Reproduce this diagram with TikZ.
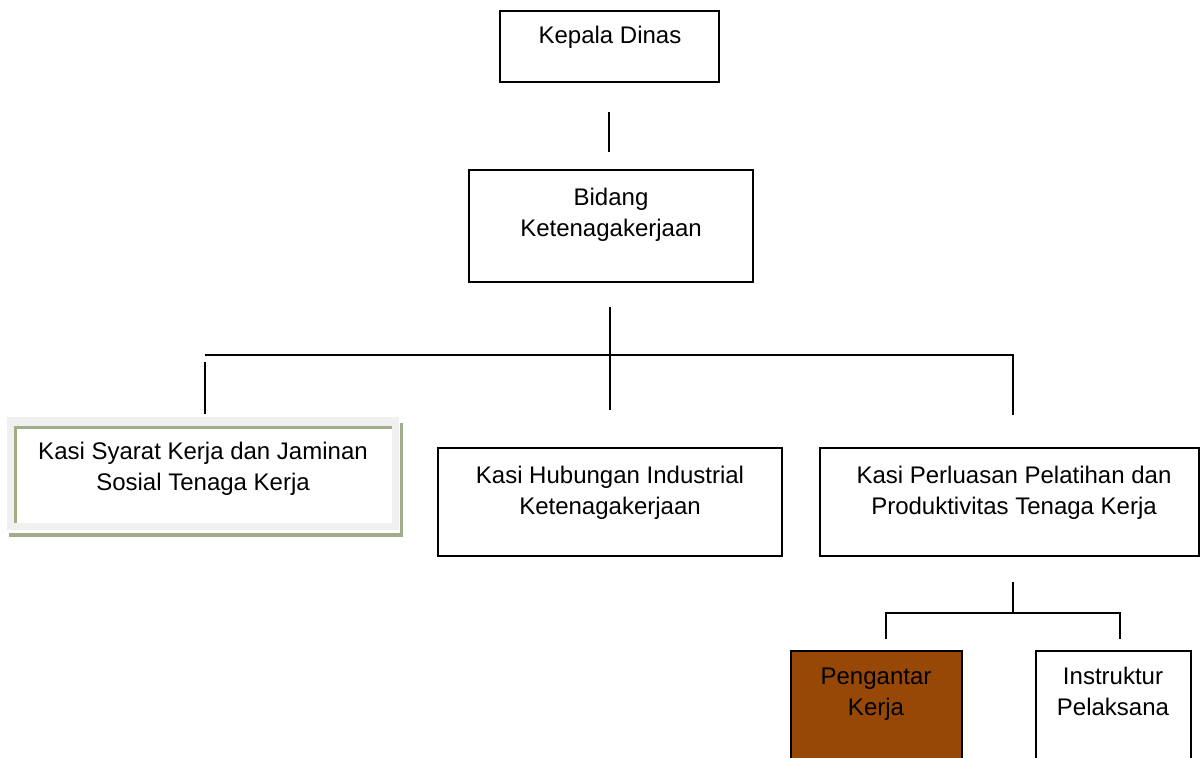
\documentclass[tikz,border=0pt]{standalone}
\usepackage{fontspec}
\setmainfont{Liberation Sans}
\definecolor{olivegray}{RGB}{161,172,137}
\definecolor{framegray}{RGB}{240,240,240}
\definecolor{brownfill}{RGB}{151,72,6}
\tikzset{
  box/.style={draw=black, line width=1pt, fill=white, inner sep=0pt},
  txt/.style={align=center, inner sep=0pt, font=\fontsize{12}{15.5}\selectfont},
  conn/.style={draw=black, line width=0.8pt},
}
\begin{document}
\begin{tikzpicture}[x=0.5pt, y=-0.5pt]
\clip (0,0) rectangle (1200,757);
\fill[white] (0,0) rectangle (1200,757);

% boxes
\node[box, minimum width=109.5pt, minimum height=35.5pt] (kd) at (609.5,46.5) {};
\node[box, minimum width=142pt, minimum height=56pt] (bk) at (611,226) {};
\node[box, minimum width=172pt, minimum height=54pt] (kh) at (610,502) {};
\node[box, minimum width=189.5pt, minimum height=54pt] (kp) at (1009.5,502) {};
\node[box, fill=brownfill, minimum width=85.5pt, minimum height=64.5pt] (pk) at (876.5,715.5) {};
\node[box, minimum width=77.5pt, minimum height=64.5pt] (ip) at (1113.5,715.5) {};

% left framed box
\fill[framegray] (7,417) rectangle (399,530);
\node[fill=white, inner sep=0pt, minimum width=188pt, minimum height=47.5pt] (ks) at (204,475.5) {};
\draw[olivegray, line width=1.25pt] (ks.south west) -- (ks.north west) -- (ks.north east);
\draw[olivegray, line width=1.5pt] (401,423) -- (401,537);
\draw[olivegray, line width=2pt] (9,534.5) -- (402,534.5);

% texts
\node[txt] (kdt) at (610,37) {Kepala Dinas};
\node[txt] (bkt) at (611,214.5) {Bidang\\Ketenagakerjaan};
\node[txt] (kst) at (203,469) {Kasi Syarat Kerja dan Jaminan\\Sosial Tenaga Kerja};
\node[txt] (kht) at (610,493) {Kasi Hubungan Industrial\\Ketenagakerjaan};
\node[txt] (kpt) at (1014,493) {Kasi Perluasan Pelatihan dan\\Produktivitas Tenaga Kerja};
\node[txt] (pkt) at (876,694.5) {Pengantar\\Kerja};
\node[txt] (ipt) at (1113,691.5) {Instruktur\\Pelaksana};

% connector coordinates
\coordinate (c1a) at (609,112);
\coordinate (c1b) at (609,152);
\coordinate (c2a) at (610,307);
\coordinate (c2b) at (610,410);
\coordinate (hl) at (205,355);
\coordinate (hr) at (1013,355);
\coordinate (l1) at (205,362);
\coordinate (l2) at (205,414);
\coordinate (r2) at (1013,415);
\coordinate (d1) at (1013,582);
\coordinate (d2) at (1013,613);
\coordinate (bl) at (886,613);
\coordinate (br) at (1120,613);
\coordinate (bl2) at (886,639);
\coordinate (br2) at (1120,639);

\draw[conn] (c1a) -- (c1b);
\draw[conn] (c2a) -- (c2b);
\draw[conn] (hl) -- (hr) -- (r2);
\draw[conn] (l1) -- (l2);
\draw[conn] (d1) -- (d2);
\draw[conn] (bl2) -- (bl) -- (br) -- (br2);
\end{tikzpicture}
\end{document}
